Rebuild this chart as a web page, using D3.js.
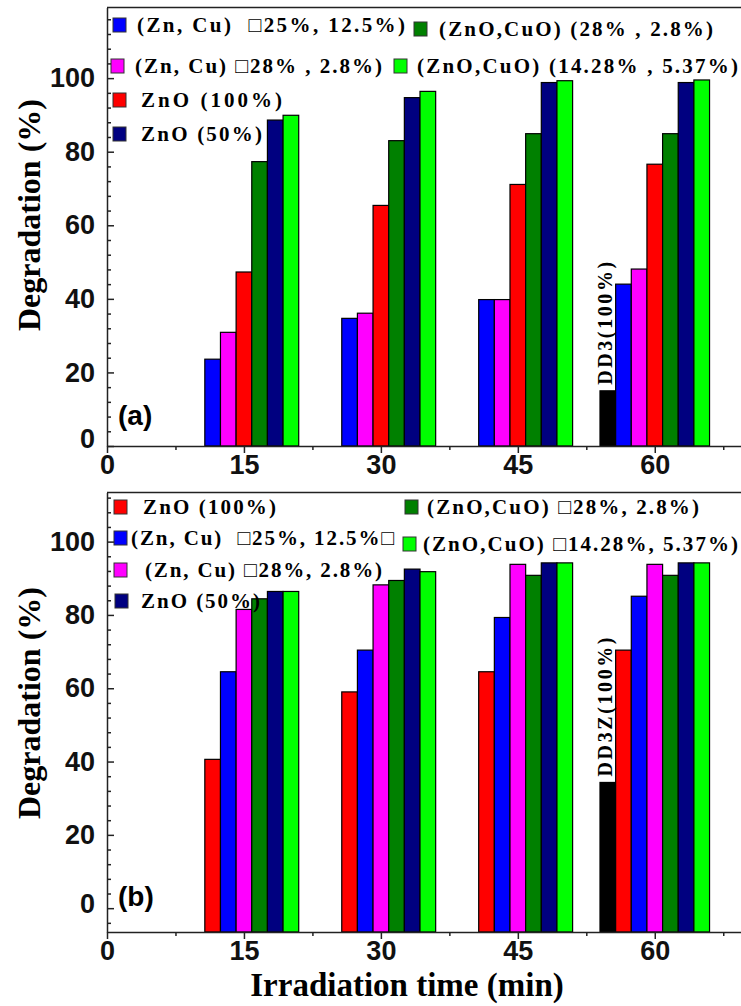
<!DOCTYPE html>
<html lang="en">
<head>
<meta charset="UTF-8">
<title>Degradation vs irradiation time</title>
<script src="https://d3js.org/d3.v7.min.js"></script>
<style>
  body { margin: 0; background: #fff; }
  .axis path, .axis line { stroke: #222; stroke-width: 1.5; }
  .axis text { font-family: "Liberation Sans", Arial, sans-serif; font-weight: bold; font-size: 27px; fill: #111; }
</style>
</head>
<body>
<svg id="chart" width="741" height="1006"></svg>
<script>
// x categories and ticks
var times = [15, 30, 45, 60];
var xTicks = [0, 15, 30, 45, 60];
var xMinor = [7.5, 22.5, 37.5, 52.5, 67.5];
var yTicks = [0, 20, 40, 60, 80, 100];

// panel (a) degradation %
var a_dd3 = [0, 0, 0, 15.0];
var a_zncu25 = [23.6, 34.7, 39.8, 44.0];
var a_zncu28 = [30.9, 36.1, 39.8, 48.1];
var a_zno100 = [47.3, 65.4, 71.1, 76.6];
var a_znocuo28 = [77.3, 83.0, 84.9, 84.9];
var a_zno50 = [88.6, 94.7, 98.8, 98.8];
var a_znocuo14 = [89.9, 96.4, 99.3, 99.5];

// panel (b) degradation %
var b_dd3z = [0, 0, 0, 34.3];
var b_zno100 = [40.6, 59.0, 64.5, 70.4];
var b_zncu25 = [64.5, 70.4, 79.3, 85.1];
var b_zncu28 = [81.5, 88.2, 93.8, 93.8];
var b_znocuo28 = [84.4, 89.4, 90.8, 90.8];
var b_zno50 = [86.4, 92.5, 94.2, 94.2];
var b_znocuo14 = [86.4, 91.8, 94.2, 94.2];

// legend texts
var a_names = ['', '(Zn, Cu)  \u25A125%, 12.5%)', '(Zn, Cu) \u25A128% , 2.8%)', 'ZnO (100%)',
               '(ZnO,CuO) (28% , 2.8%)', 'ZnO (50%)', '(ZnO,CuO) (14.28% , 5.37%)'];
var b_names = ['', 'ZnO (100%)', '(Zn, Cu)  \u25A125%, 12.5%\u25A1', '(Zn, Cu) \u25A128%, 2.8%)',
               '(ZnO,CuO) \u25A128%, 2.8%)', 'ZnO (50%)', '(ZnO,CuO) \u25A114.28%, 5.37%)'];

var a_colors = ['#000000', '#0000ff', '#ff00ff', '#ff0000', '#008000', '#000080', '#00ff00'];
var b_colors = ['#000000', '#ff0000', '#0000ff', '#ff00ff', '#008000', '#000080', '#00ff00'];

var serif = '"Liberation Serif", "Times New Roman", serif';
var sans = '"Liberation Sans", Arial, sans-serif';

var svg = d3.select('#chart');
var x = d3.scaleLinear().domain([0, 69.5]).range([107, 741.5]);
var groupSpan = 12; // minutes covered by one group of 7 bars

var panels = [
    {
        series: [a_dd3, a_zncu25, a_zncu28, a_zno100, a_znocuo28, a_zno50, a_znocuo14],
        names: a_names, colors: a_colors,
        yDomain: [0, 119.2], top: 7.5, bottom: 446,
        zeroShift: -7, tag: '(a)', tagY: 425, note: 'DD3(100%)',
        titleY: 215,
        // legend: [square x, square centre y, text x, text width] for series 1..6
        legend: [null, [113, 25, 137, 268], [111, 66, 135, 247], [113, 100, 141, 141],
                 [414, 29, 439, 274], [113, 134, 141, 121], [394, 66, 417, 321]]
    },
    {
        series: [b_dd3z, b_zno100, b_zncu25, b_zncu28, b_znocuo28, b_zno50, b_znocuo14],
        names: b_names, colors: b_colors,
        yDomain: [-6.5, 113.4], top: 492.5, bottom: 932,
        zeroShift: -4, tag: '(b)', tagY: 906, note: 'DD3Z(100%)',
        titleY: 703,
        legend: [null, [114, 507, 143, 133], [114, 538, 131, 263], [114, 570, 145, 237],
                 [405, 507, 427, 272], [115, 601, 141, 119], [403, 544, 423, 315]]
    }
];

panels.forEach(function (p) {
    var y = d3.scaleLinear().domain(p.yDomain).range([p.bottom, p.top]);
    var g = svg.append('g');

    // frame top line
    g.append('line')
        .attr('x1', x(0)).attr('x2', 741).attr('y1', p.top).attr('y2', p.top)
        .attr('stroke', '#222').attr('stroke-width', 1.5);

    // bars
    var slot = d3.scaleBand()
        .domain(d3.range(p.series.length))
        .range([x(-groupSpan / 2) - x(0), x(groupSpan / 2) - x(0)]);

    p.series.forEach(function (vals, i) {
        var pts = times.map(function (t, j) { return { t: t, v: vals[j] }; })
            .filter(function (d) { return d.v > 0; });
        g.selectAll(null)
            .data(pts)
            .enter()
            .append('rect')
            .attr('x', function (d) { return x(d.t) + slot(i); })
            .attr('width', slot.bandwidth())
            .attr('y', function (d) { return y(d.v); })
            .attr('height', function (d) { return p.bottom - y(d.v); })
            .attr('fill', p.colors[i])
            .attr('stroke', '#000')
            .attr('stroke-width', 1.2);
    });

    // note above the black bar
    var last = times.length - 1;
    var nx = x(times[last]) + slot(0) + slot.bandwidth() / 2 - 3;
    var ny = y(p.series[0][last]) - 6;
    g.append('text')
        .attr('transform', 'translate(' + nx + ',' + ny + ') rotate(-90)')
        .attr('dy', '0.35em')
        .style('font-family', serif).style('font-weight', 'bold')
        .style('font-size', '20px').style('letter-spacing', '2.6px')
        .text(p.note);

    // x axis
    g.append('g').attr('class', 'axis')
        .attr('transform', 'translate(0,' + p.bottom + ')')
        .call(d3.axisBottom(x).tickValues(xTicks).tickSize(7).tickSizeOuter(0).tickPadding(2));
    g.append('g').attr('class', 'axis')
        .attr('transform', 'translate(0,' + p.bottom + ')')
        .call(d3.axisBottom(x).tickValues(xMinor).tickSize(4).tickSizeOuter(0).tickFormat(''))
        .select('.domain').remove();

    // y axis
    var yMinor = d3.range(Math.ceil(p.yDomain[0] / 4) * 4, p.yDomain[1], 4)
        .filter(function (v) { return v % 20 !== 0; });
    var ya = g.append('g').attr('class', 'axis')
        .attr('transform', 'translate(' + x(0) + ',0)')
        .call(d3.axisLeft(y).tickValues(yTicks).tickSize(-7).tickSizeOuter(0).tickPadding(12));
    ya.selectAll('.tick text')
        .filter(function (d) { return d === 0; })
        .attr('y', p.zeroShift);
    g.append('g').attr('class', 'axis')
        .attr('transform', 'translate(' + x(0) + ',0)')
        .call(d3.axisLeft(y).tickValues(yMinor).tickSize(-4).tickSizeOuter(0).tickFormat(''))
        .select('.domain').remove();

    // y title
    g.append('text')
        .attr('transform', 'translate(40,' + p.titleY + ') rotate(-90)')
        .attr('text-anchor', 'middle')
        .style('font-family', serif).style('font-weight', 'bold')
        .style('font-size', '32px')
        .text('Degradation (%)');

    // panel tag
    g.append('text')
        .attr('x', 118).attr('y', p.tagY)
        .style('font-family', sans).style('font-weight', 'bold')
        .style('font-size', '28px')
        .text(p.tag);

    // legend
    p.legend.forEach(function (pos, i) {
        if (!pos) return;
        g.append('rect')
            .attr('x', pos[0]).attr('y', pos[1] - 7)
            .attr('width', 13).attr('height', 14)
            .attr('fill', p.colors[i])
            .attr('stroke', '#333').attr('stroke-width', 1);
        g.append('text')
            .attr('x', pos[2]).attr('y', pos[1] + 7)
            .attr('textLength', pos[3])
            .attr('lengthAdjust', 'spacing')
            .style('white-space', 'pre')
            .style('font-family', serif).style('font-weight', 'bold')
            .style('font-size', '21px')
            .text(p.names[i]);
    });
});

// x title
svg.append('text')
    .attr('x', 407).attr('y', 996)
    .attr('text-anchor', 'middle')
    .style('font-family', serif).style('font-weight', 'bold')
    .style('font-size', '33px')
    .text('Irradiation time (min)');
</script>
</body>
</html>
